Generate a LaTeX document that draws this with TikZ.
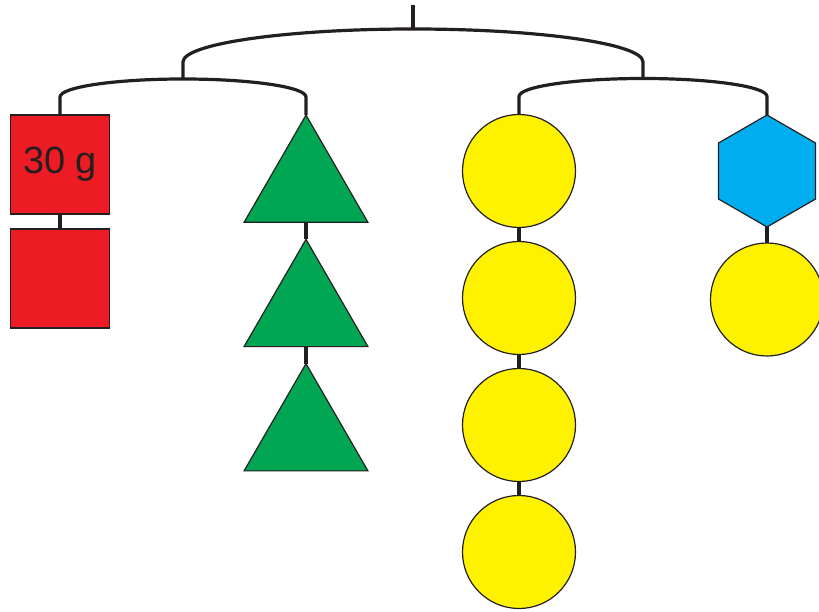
\documentclass[tikz,border=0pt]{standalone}
\usepackage{fontspec}
\setmainfont{Liberation Sans}
\usetikzlibrary{shapes.geometric,positioning}
\definecolor{mred}{HTML}{ED1C24}
\definecolor{mgreen}{HTML}{00A651}
\definecolor{myellow}{HTML}{FFF200}
\definecolor{mblue}{HTML}{00AEEF}
\definecolor{ink}{HTML}{231F20}
\begin{document}
\begin{tikzpicture}[x=1pt,y=1pt,
	bar/.style={line width=3.2pt,color=ink},
	edge/.style={draw=ink,line width=1.2pt,inner sep=0pt,outer sep=0pt},
	sq/.style={edge,fill=mred,rectangle,minimum size=99pt},
	tri/.style={edge,fill=mgreen,regular polygon,regular polygon sides=3,minimum size=143pt},
	ball/.style={edge,fill=myellow,circle,minimum size=113pt},
	hex/.style={edge,fill=mblue,regular polygon,regular polygon sides=6,shape border rotate=30,minimum size=112pt}]
			\clip (0,0) rectangle (819,611);
			\node[sq] (sq1) at (60,446.5) {\fontsize{38}{40}\selectfont\color{ink}30 g};
			\node[sq,below=15pt of sq1] (sq2) {};
			\node[tri] (tri1) at (306,424.4) {};
			\node[tri,below=17pt of tri1] (tri2) {};
			\node[tri,below=17pt of tri2] (tri3) {};
			\node[ball] (b1) at (519,440) {};
			\node[ball,below=14pt of b1] (b2) {};
			\node[ball,below=14pt of b2] (b3) {};
			\node[ball,below=14pt of b3] (b4) {};
			\node[hex] (hx) at (767,440) {};
			\node[ball,below=16pt of hx] (b5) {};
			\coordinate (lh) at (183,532);
			\coordinate (rh) at (643,532);
			\coordinate (mid) at (413,582);
			\coordinate (tp) at (413,606);
			\draw[bar] (sq1) -- (sq2) (tri1) -- (tri2) (tri2) -- (tri3);
			\draw[bar] (b1) -- (b2) (b2) -- (b3) (b3) -- (b4) (hx) -- (b5);
			\draw[bar] (sq1.north) -- ++(0,18) arc[start angle=180,end angle=0,x radius=123,y radius=18] -- (tri1.north);
			\draw[bar] (b1.north) -- ++(0,18) arc[start angle=180,end angle=0,x radius=124,y radius=18] -- (hx.north);
			\draw[bar] (lh) -- ++(0,17) arc[start angle=180,end angle=0,x radius=230,y radius=33] -- (rh);
			\draw[bar] (mid) -- (tp);
	\end{tikzpicture}
\end{document}
